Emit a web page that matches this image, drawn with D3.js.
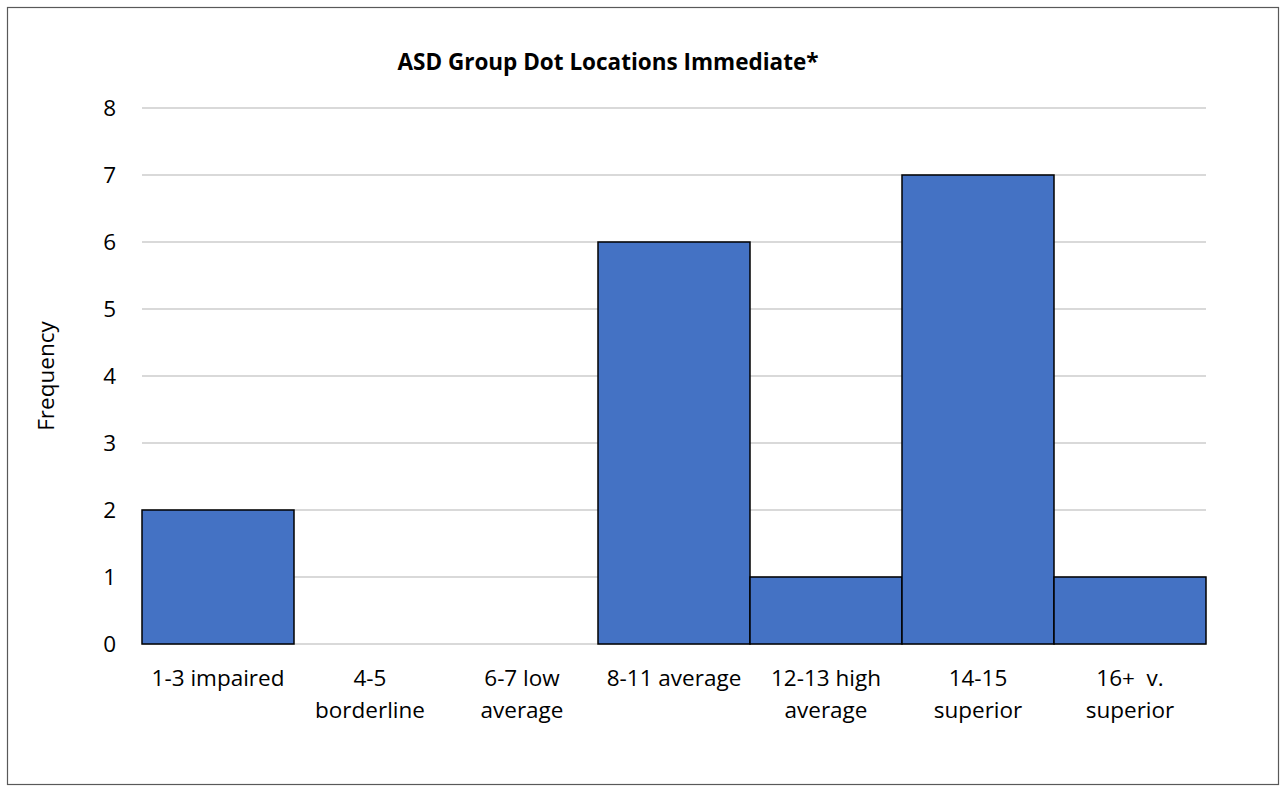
<!DOCTYPE html>
<html lang="en">
<head>
    <meta charset="UTF-8">
    <title>ASD Group Dot Locations Immediate</title>
    <script src="https://d3js.org/d3.v7.min.js"></script>
    <style>
        body { margin: 0; background: #fff; }
        svg { display: block; font-family: "Open Sans", sans-serif; }
    </style>
</head>
<body>
    <div id="chart-div"></div>
    <script>
        // data
        const categories = [
            ["1-3 impaired"],
            ["4-5", "borderline"],
            ["6-7 low", "average"],
            ["8-11 average"],
            ["12-13 high", "average"],
            ["14-15", "superior"],
            ["16+  v.", "superior"]
        ];
        const frequency = [2, 0, 0, 6, 1, 7, 1];
        const yTicks = [0, 1, 2, 3, 4, 5, 6, 7, 8];

        const chartWidth = 1285, chartHeight = 792;
        const margin = {top: 108, right: 79, bottom: 148, left: 142};
        const fontFam = "'Open Sans', sans-serif";
        const fs = 22.5;

        const svg = d3.select("#chart-div").append("svg")
            .attr("width", chartWidth)
            .attr("height", chartHeight);

        // outer frame
        svg.append("rect")
            .attr("x", 7.5).attr("y", 7.5)
            .attr("width", 1271).attr("height", 777)
            .attr("fill", "#fff")
            .attr("stroke", "#595959")
            .attr("stroke-width", 1.2);

        const idx = d3.range(categories.length);
        const x = d3.scaleBand()
            .domain(idx)
            .range([margin.left, chartWidth - margin.right])
            .padding(0);
        const y = d3.scaleLinear()
            .domain([0, 8])
            .range([chartHeight - margin.bottom, margin.top]);

        // gridlines
        svg.append("g")
            .selectAll("line")
            .data(yTicks)
            .join("line")
            .attr("x1", margin.left)
            .attr("x2", chartWidth - margin.right)
            .attr("y1", d => y(d))
            .attr("y2", d => y(d))
            .attr("stroke", "#d9d9d9")
            .attr("stroke-width", 2);

        // y axis labels
        svg.append("g")
            .call(d3.axisLeft(y).tickValues(yTicks).tickSize(0).tickPadding(0))
            .attr("transform", `translate(${margin.left - 26},0)`)
            .call(g => g.select(".domain").remove())
            .call(g => g.selectAll("text")
                .attr("font-family", fontFam)
                .attr("font-size", fs)
                .attr("fill", "#000"));

        // bars
        svg.append("g")
            .selectAll("rect")
            .data(frequency)
            .join("rect")
            .attr("x", (d, i) => x(i))
            .attr("width", x.bandwidth())
            .attr("y", d => y(d))
            .attr("height", d => y(0) - y(d))
            .attr("fill", "#4472c4")
            .attr("stroke", d => d > 0 ? "#000" : "none")
            .attr("stroke-width", 1.5);

        // x labels
        const xl = svg.append("g")
            .selectAll("text")
            .data(categories)
            .join("text")
            .attr("text-anchor", "middle")
            .attr("font-size", fs)
            .attr("fill", "#000")
            .attr("x", (d, i) => x(i) + x.bandwidth() / 2)
            .attr("y", 686);
        xl.selectAll("tspan")
            .data(d => d)
            .join("tspan")
            .attr("x", function () { return d3.select(this.parentNode).attr("x"); })
            .attr("dy", (d, i) => i === 0 ? 0 : 32)
            .attr("xml:space", "preserve")
            .text(d => d);

        // axis title
        svg.append("text")
            .attr("transform", "translate(54,376) rotate(-90)")
            .attr("text-anchor", "middle")
            .attr("font-size", fs)
            .text("Frequency");

        // chart title
        svg.append("text")
            .attr("x", 608)
            .attr("y", 70)
            .attr("text-anchor", "middle")
            .attr("font-size", fs)
            .attr("font-weight", "bold")
            .text("ASD Group Dot Locations Immediate*");
    </script>
</body>
</html>
